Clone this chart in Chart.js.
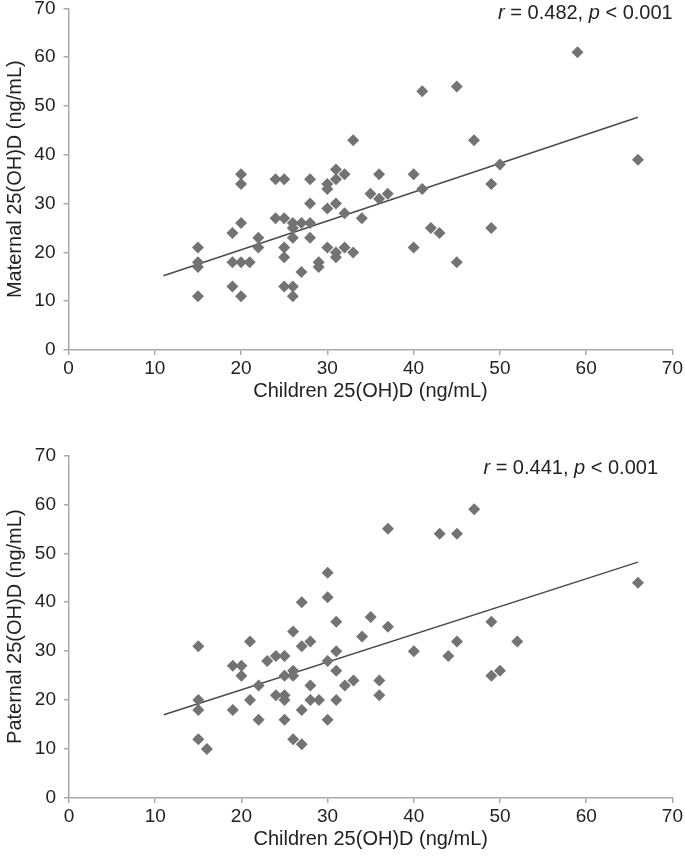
<!DOCTYPE html>
<html>
<head>
<meta charset="utf-8">
<script src="https://cdn.jsdelivr.net/npm/chart.js@4.4.0/dist/chart.umd.min.js"></script>
<style>
html, body { margin: 0; padding: 0; background: #ffffff; overflow: hidden; }
body { width: 685px; height: 861px; position: relative; }
.box { position: absolute; left: 0; width: 685px; }
</style>
</head>
<body>
<div class="box" style="top:-11px; height:431px;"><canvas id="maternalChart"></canvas></div>
<div class="box" style="top:435.6px; height:432px;"><canvas id="paternalChart"></canvas></div>
<script>
// Children 25(OH)D vs maternal 25(OH)D
const maternalX = [15, 15, 15, 15, 19, 19, 19, 20, 20, 20, 20, 20, 21, 22, 22, 24, 24, 25, 25, 25, 25, 25, 26, 26, 26, 26, 26, 27, 27, 28, 28, 28, 28, 29, 29, 30, 30, 30, 30, 31, 31, 31, 31, 31, 32, 32, 32, 33, 33, 34, 35, 36, 36, 37, 40, 40, 41, 41, 42, 43, 45, 45, 47, 49, 49, 50, 59, 66];
const maternalY = [21, 18, 17, 11, 24, 18, 13, 36, 34, 26, 18, 11, 18, 23, 21, 35, 27, 35, 27, 21, 19, 13, 26, 25, 23, 13, 11, 26, 16, 35, 30, 26, 23, 18, 17, 34, 33, 29, 21, 37, 35, 30, 20, 19, 36, 28, 21, 43, 20, 27, 32, 36, 31, 32, 36, 21, 53, 33, 25, 24, 54, 18, 43, 34, 25, 38, 61, 39];
const maternalFitX = [11, 66];
const maternalFitY = [15.2, 47.7];

// Children 25(OH)D vs paternal 25(OH)D
const paternalX = [15, 15, 15, 15, 16, 19, 19, 20, 20, 21, 21, 22, 22, 23, 24, 24, 25, 25, 25, 25, 25, 26, 26, 26, 26, 27, 27, 27, 27, 28, 28, 28, 29, 30, 30, 30, 30, 31, 31, 31, 31, 32, 33, 34, 35, 36, 36, 37, 37, 40, 43, 44, 45, 45, 47, 49, 49, 50, 52, 66];
const paternalY = [31, 20, 18, 12, 10, 27, 18, 27, 25, 32, 20, 23, 16, 28, 29, 21, 29, 25, 21, 20, 16, 34, 26, 25, 12, 40, 31, 18, 11, 32, 23, 20, 20, 46, 41, 28, 16, 36, 30, 26, 20, 23, 24, 33, 37, 24, 21, 35, 55, 30, 54, 29, 54, 32, 59, 36, 25, 26, 32, 44];
const paternalFitX = [11, 66];
const paternalFitY = [17.0, 48.2];

const axisTicks = [0, 10, 20, 30, 40, 50, 60, 70];

const pointColor = '#737373';
const axisColor = '#a9a9a9';
const textColor = '#222222';
const fontFamily = '"Liberation Sans", Arial, Helvetica, sans-serif';

function toPoints(xs, ys) {
    return xs.map((x, i) => ({ x: x, y: ys[i] }));
}

// draws the "r = ..., p < ..." note with italic r and p
const statNote = {
    id: 'statNote',
    afterDraw(chart, args, opts) {
        const ctx = chart.ctx;
        const parts = [
            { t: 'r', it: true },
            { t: ' = ' + opts.r + ', ', it: false },
            { t: 'p', it: true },
            { t: ' < ' + opts.p, it: false }
        ];
        const fontFor = it => (it ? 'italic ' : '') + opts.size + 'px ' + fontFamily;
        ctx.save();
        let total = 0;
        parts.forEach(p => {
            ctx.font = fontFor(p.it);
            p.w = ctx.measureText(p.t).width;
            total += p.w;
        });
        let x = opts.right - total;
        ctx.fillStyle = textColor;
        ctx.textBaseline = 'middle';
        ctx.textAlign = 'left';
        parts.forEach(p => {
            ctx.font = fontFor(p.it);
            ctx.fillText(p.t, x, opts.y);
            x += p.w;
        });
        ctx.restore();
    }
};

function makeChart(canvasId, xs, ys, fitX, fitY, yTitle, note, yAxisWidth) {
    const ctx = document.getElementById(canvasId).getContext('2d');
    return new Chart(ctx, {
        type: 'scatter',
        data: {
            datasets: [{
                label: 'data',
                data: toPoints(xs, ys),
                pointStyle: 'rectRot',
                pointRadius: 6,
                pointHoverRadius: 6,
                backgroundColor: pointColor,
                borderColor: pointColor,
                borderWidth: 0
            }, {
                label: 'fit',
                data: toPoints(fitX, fitY),
                showLine: true,
                pointRadius: 0,
                borderColor: '#4a4a4a',
                borderWidth: 1.5,
                fill: false
            }]
        },
        options: {
            responsive: true,
            maintainAspectRatio: false,
            animation: false,
            layout: {
                padding: { top: 0, bottom: 0, left: 0, right: 12.4 }
            },
            plugins: {
                legend: { display: false },
                tooltip: { enabled: false },
                statNote: note
            },
            scales: {
                x: {
                    type: 'linear',
                    min: 0,
                    max: 70,
                    afterBuildTicks: scale => { scale.ticks = axisTicks.map(v => ({ value: v })); },
                    afterFit: scale => { scale.height = 70; },
                    ticks: {
                        color: textColor,
                        padding: 2,
                        font: { size: 19, family: fontFamily }
                    },
                    grid: {
                        drawOnChartArea: false,
                        drawTicks: true,
                        tickLength: 5,
                        tickColor: axisColor,
                        lineWidth: 1.5
                    },
                    border: { color: axisColor, width: 1.5 },
                    title: {
                        display: true,
                        text: 'Children 25(OH)D (ng/mL)',
                        color: textColor,
                        font: { size: 20, family: fontFamily },
                        padding: { top: 0, bottom: 17 }
                    }
                },
                y: {
                    type: 'linear',
                    min: 0,
                    max: 70,
                    afterBuildTicks: scale => { scale.ticks = axisTicks.map(v => ({ value: v })); },
                    afterFit: scale => { scale.width = yAxisWidth; },
                    ticks: {
                        color: textColor,
                        padding: 8,
                        font: { size: 19, family: fontFamily }
                    },
                    grid: {
                        drawOnChartArea: false,
                        drawTicks: true,
                        tickLength: 5,
                        tickColor: axisColor,
                        lineWidth: 1.5
                    },
                    border: { color: axisColor, width: 1.5 },
                    title: {
                        display: true,
                        text: yTitle,
                        color: textColor,
                        font: { size: 20, family: fontFamily },
                        padding: { top: 3, bottom: 0 }
                    }
                }
            }
        },
        plugins: [statNote]
    });
}

makeChart('maternalChart', maternalX, maternalY, maternalFitX, maternalFitY,
    'Maternal 25(OH)D (ng/mL)', { r: '0.482', p: '0.001', size: 20, right: 672.7, y: 24 }, 68.5);

makeChart('paternalChart', paternalX, paternalY, paternalFitX, paternalFitY,
    'Paternal 25(OH)D (ng/mL)', { r: '0.441', p: '0.001', size: 20, right: 658, y: 32.4 }, 69);
</script>
</body>
</html>
